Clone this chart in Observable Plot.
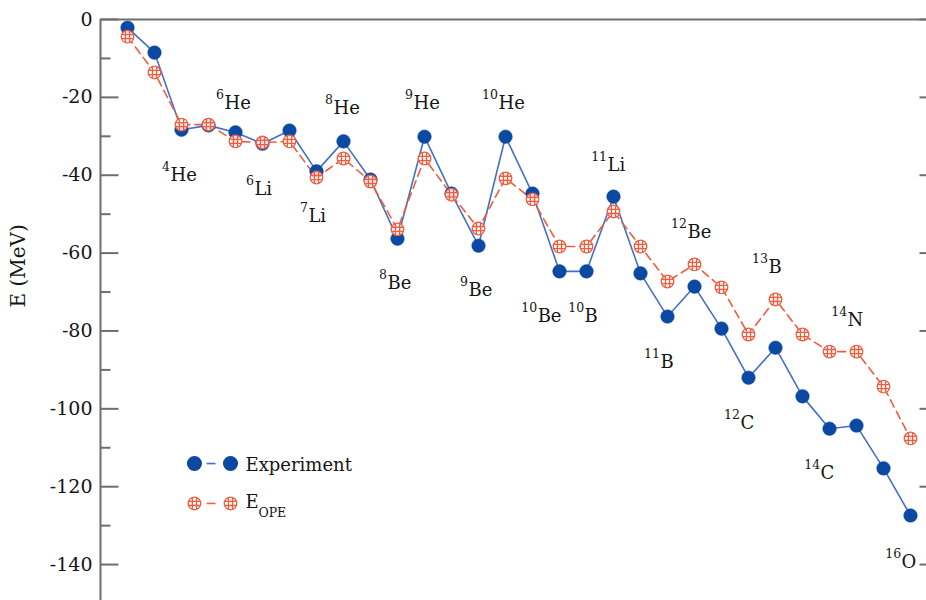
<!DOCTYPE html>
<html><head><meta charset="utf-8">
<script src="https://cdn.jsdelivr.net/npm/d3@7"></script>
<script src="https://cdn.jsdelivr.net/npm/@observablehq/plot@0.6"></script>
<style>
html,body{margin:0;padding:0;background:#fff;overflow:hidden;}
</style>
</head><body><div id="chart"></div>
<script>
// Nuclei in plotted order
const nuclei = ["2H","3H","4He","5He","6He","6Li","7He","7Li","8He","8Li","8Be","9He","9Li","9Be","10He","10Li","10Be","10B","11Li","11Be","11B","12Be","12B","12C","13B","13C","14C","14N","15N","16O"];
// Experimental energies (MeV)
const experiment = [-2.1,-8.5,-28.3,-27.2,-29.0,-31.9,-28.5,-39.0,-31.3,-41.1,-56.3,-30.1,-44.7,-58.1,-30.1,-44.7,-64.7,-64.7,-45.5,-65.2,-76.3,-68.6,-79.4,-92.0,-84.3,-96.8,-105.1,-104.3,-115.3,-127.4];
// E_OPE energies (MeV)
const eOPE = [-4.4,-13.6,-27.0,-27.0,-31.3,-31.6,-31.3,-40.6,-35.7,-41.6,-53.9,-35.7,-45.0,-53.7,-40.8,-46.2,-58.3,-58.3,-49.3,-58.3,-67.3,-62.9,-68.8,-80.9,-71.9,-80.9,-85.3,-85.3,-94.3,-107.6];
// Axis ticks
const yMajor = [0,-20,-40,-60,-80,-100,-120,-140];
const yMinor = [-10,-30,-50,-70,-90,-110,-130,-150];
// Nucleus annotations: mass number, element, anchor (x index, energy)
const labelMass = ["4","6","6","7","8","8","9","9","10","10","10","11","11","12","12","13","14","14","16"];
const labelElem = ["He","He","Li","Li","He","Be","He","Be","He","Be","B","Li","B","Be","C","B","C","N","O"];
const labelX = [2.59,4.59,5.70,7.70,8.63,10.63,11.59,13.63,14.74,16.19,17.93,18.78,20.74,21.74,23.70,24.74,26.67,27.67,29.67];
const labelY = [-41.4,-22.9,-45.0,-52.1,-24.2,-69.1,-23.1,-70.9,-23.1,-77.8,-77.8,-38.8,-89.4,-56.0,-105.1,-65.2,-117.9,-78.6,-140.8];
// Legend
const seriesNames = ["Experiment","E"];
const seriesSub = ["","OPE"];

const rows = nuclei.map((n, i) => ({i: i + 1, n, exp: experiment[i], ope: eOPE[i]}));
const labels = labelMass.map((m, k) => ({m, e: labelElem[k], x: labelX[k], y: labelY[k]}));

const BLUE_DOT = "#0b49a3", BLUE_LINE = "#4470c6", RED = "#f25c3c", AXIS = "#6e6e6e", TXT = "#151515";
const SERIF = "DejaVu Serif";

const crossCircle = {
  draw(ctx, size) {
    const r = Math.sqrt(size / Math.PI);
    ctx.moveTo(r, 0);
    ctx.arc(0, 0, r, 0, 2 * Math.PI);
    const a = r * 0.33, b = Math.sqrt(r * r - a * a);
    ctx.moveTo(-a, -b); ctx.lineTo(-a, b);
    ctx.moveTo(a, -b); ctx.lineTo(a, b);
    ctx.moveTo(-b, -a); ctx.lineTo(b, -a);
    ctx.moveTo(-b, a); ctx.lineTo(b, a);
  }
};

const major = 18 / 27, minor = 10 / 27;
const legY = [-114.05, -124.3];
const legText = [{t: seriesNames[0], y: -115.85}, {t: seriesNames[1], y: -125.35}];

const chart = Plot.plot({
  width: 926, height: 603,
  marginLeft: 100, marginRight: -11, marginTop: 19, marginBottom: 0,
  style: {background: "#fff", color: TXT, fontFamily: SERIF},
  x: {domain: [0, 31], axis: null},
  y: {domain: [-150, 0], axis: null},
  marks: [
    Plot.ruleY([0], {stroke: AXIS, strokeWidth: 2}),
    Plot.ruleX([0], {stroke: AXIS, strokeWidth: 2}),
    Plot.link(yMajor, {x1: 0, x2: major, y1: d => d, y2: d => d, stroke: AXIS, strokeWidth: 2}),
    Plot.link(yMinor, {x1: 0, x2: minor, y1: d => d, y2: d => d, stroke: AXIS, strokeWidth: 2}),
    Plot.link(yMajor, {x1: 31, x2: 31 - major, y1: d => d, y2: d => d, stroke: AXIS, strokeWidth: 2}),
    Plot.link(yMinor, {x1: 31, x2: 31 - minor, y1: d => d, y2: d => d, stroke: AXIS, strokeWidth: 2}),
    Plot.axisY(yMajor, {anchor: "left", tickSize: 0, tickPadding: 8, fontSize: 19, fontFamily: SERIF, tickFormat: d => String(d), label: null, fill: TXT}),
    Plot.text(["E (MeV)"], {frameAnchor: "left", rotate: -90, dx: -82, dy: -4, fontSize: 20, fontFamily: SERIF, fill: TXT}),
    Plot.line(rows, {x: "i", y: "exp", stroke: BLUE_LINE, strokeWidth: 1.6}),
    Plot.line(rows, {x: "i", y: "ope", stroke: RED, strokeWidth: 1.6, strokeDasharray: "8,5"}),
    Plot.dot(rows, {x: "i", y: "exp", r: 6.8, fill: BLUE_DOT, stroke: BLUE_DOT, strokeWidth: 0.5}),
    Plot.dot(rows, {x: "i", y: "ope", r: 6.3, symbol: crossCircle, fill: "#fff", fillOpacity: 0.85, stroke: RED, strokeWidth: 1.3}),
    // annotations
    Plot.text(labels, {x: "x", y: "y", text: "e", textAnchor: "start", lineAnchor: "bottom", fontSize: 18, fontFamily: SERIF, fill: TXT}),
    Plot.text(labels, {x: "x", y: "y", text: "m", textAnchor: "end", lineAnchor: "bottom", dy: -10, dx: -0.5, fontSize: 12.5, fontFamily: SERIF, fill: TXT}),
    // legend
    Plot.link(legY, {x1: 3.93, x2: 4.26, y1: d => d, y2: d => d, stroke: (d, k) => k === 0 ? BLUE_LINE : RED, strokeWidth: 1.6}),
    Plot.dot(legY.slice(0, 1), {x: 3.48, y: d => d, r: 6.8, fill: BLUE_DOT, stroke: BLUE_DOT}),
    Plot.dot(legY.slice(0, 1), {x: 4.815, y: d => d, r: 6.8, fill: BLUE_DOT, stroke: BLUE_DOT}),
    Plot.dot(legY.slice(1), {x: 3.48, y: d => d, r: 6.3, symbol: crossCircle, fill: "#fff", stroke: RED, strokeWidth: 1.3}),
    Plot.dot(legY.slice(1), {x: 4.815, y: d => d, r: 6.3, symbol: crossCircle, fill: "#fff", stroke: RED, strokeWidth: 1.3}),
    Plot.text(legText, {x: 5.37, y: "y", text: "t", textAnchor: "start", lineAnchor: "bottom", fontSize: 18, fontFamily: SERIF, fill: TXT}),
    Plot.text(seriesSub.slice(1), {x: 5.85, y: -127.7, text: d => d, textAnchor: "start", lineAnchor: "bottom", fontSize: 12.5, fontFamily: SERIF, fill: TXT})
  ]
});
document.getElementById("chart").appendChild(chart);
</script>
</body></html>
